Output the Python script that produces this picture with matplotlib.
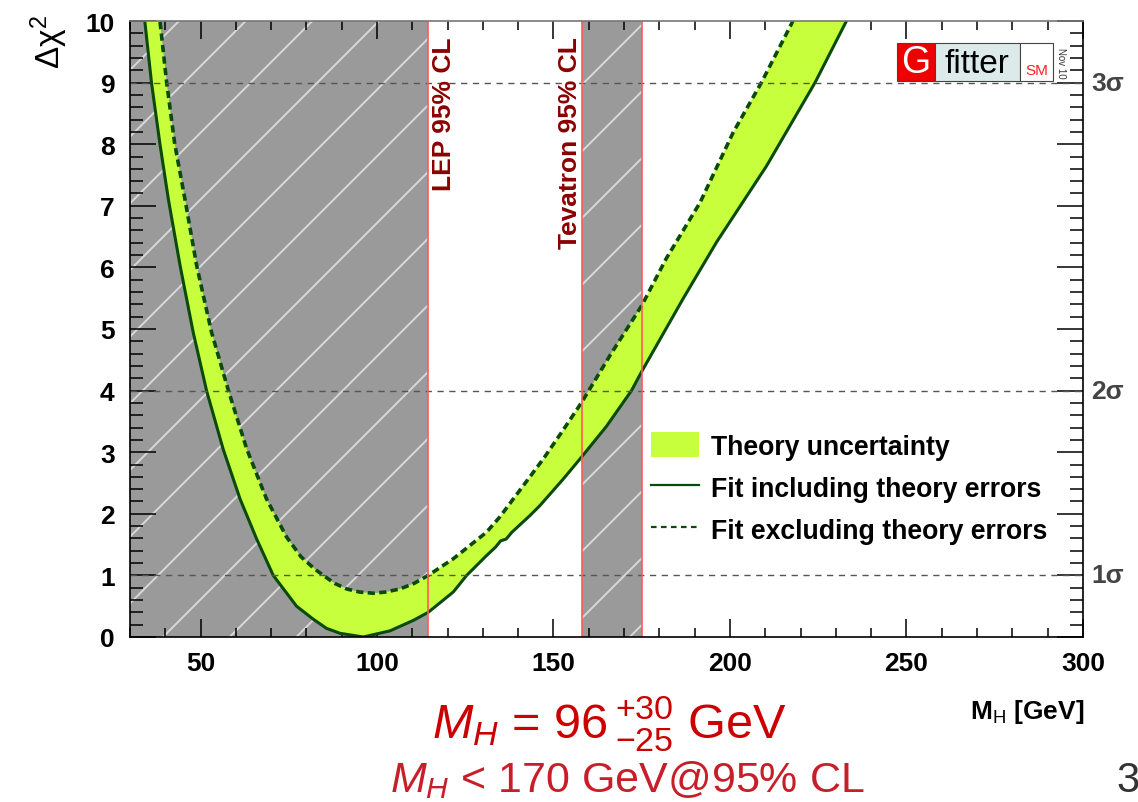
import numpy as np
import matplotlib
matplotlib.use("Agg")
import matplotlib.pyplot as plt
from matplotlib.patches import Rectangle, Patch
from matplotlib.lines import Line2D
from matplotlib.ticker import MultipleLocator

plt.rcParams['font.family'] = ['Liberation Sans', 'DejaVu Sans']
plt.rcParams['mathtext.fontset'] = 'custom'
plt.rcParams['mathtext.rm'] = 'Liberation Sans'
plt.rcParams['mathtext.it'] = 'Liberation Sans:italic'
plt.rcParams['mathtext.bf'] = 'Liberation Sans:bold'
plt.rcParams['hatch.linewidth'] = 0.7

# Fit including theory errors (solid, outer edge of the band)
mh_incl = [33.3, 34.2, 36.1, 38.5, 40.9, 44.2, 47.9, 51.7, 56.4, 61.2, 65.9, 70.6,
           77.2, 81.9, 85.7, 89.5, 96.1, 103.7, 110.3, 114.5, 121.6, 125.4, 131.0,
           133.6, 135.0, 136.6, 138.2, 143.3, 146.1, 152.7, 157.5, 165.0, 172.1,
           174.9, 186.7, 196.2, 210.4, 224.1, 233.0, 237.5]
chi2_incl = [10.5, 10.0, 9.0, 8.0, 7.1, 6.03, 4.95, 4.0, 3.05, 2.24, 1.59, 1.0,
             0.50, 0.29, 0.14, 0.06, 0.0, 0.10, 0.27, 0.40, 0.73, 1.0, 1.32,
             1.46, 1.56, 1.59, 1.70, 1.97, 2.13, 2.56, 2.89, 3.42, 4.0,
             4.30, 5.49, 6.41, 7.65, 9.0, 10.0, 10.5]

# Fit excluding theory errors (dashed, inner edge of the band)
mh_excl = [37.6, 38.5, 40.4, 42.7, 45.6, 48.9, 53.1, 57.9, 63.1, 68.7, 74.4, 78.5,
           82.4, 84.8, 88.0, 91.4, 95.0, 98.9, 102.5, 106.5, 110.5, 114.5, 121.6,
           131.0, 134.8, 142.4, 147.1, 152.5, 158.0, 166.0, 175.0, 182.0, 191.5,
           200.9, 208.9, 217.4, 221.5]
chi2_excl = [10.5, 10.0, 9.0, 8.0, 7.1, 6.03, 4.95, 4.0, 3.05, 2.24, 1.62, 1.3,
             1.10, 1.0, 0.87, 0.78, 0.73, 0.71, 0.73, 0.78, 0.87, 1.0, 1.27,
             1.70, 1.95, 2.53, 2.89, 3.34, 3.81, 4.57, 5.38, 6.15, 7.05,
             8.19, 9.0, 9.95, 10.5]

lep_limit = 114.4
tev_excl = (158.0, 175.0)
sigma_levels = [1, 4, 9]
sigma_labels = ['1σ', '2σ', '3σ']

band_color = '#c8ff3c'
line_color = '#0a4a0a'
excl_gray = '#9a9a9a'
limit_red = '#ff5a5a'
text_red = '#8b0000'

fig = plt.figure(figsize=(5.69, 4.015), dpi=200)
ax = fig.add_axes([0.1142, 0.2055, 0.8374, 0.7671])
ax.set_xlim(30, 300)
ax.set_ylim(0, 10)

# excluded regions (hatched gray)
ax.axvspan(30, lep_limit, facecolor=excl_gray, edgecolor='#d8d8d8', hatch='/', lw=0, zorder=1)
ax.axvspan(tev_excl[0], tev_excl[1], facecolor=excl_gray, edgecolor='#d8d8d8', hatch='/', lw=0, zorder=1)

# theory band between the two curves
band_x = np.r_[mh_incl, mh_excl[::-1]]
band_y = np.r_[chi2_incl, chi2_excl[::-1]]
ax.fill(band_x, band_y, color=band_color, lw=0, zorder=2)
ax.plot(mh_incl, chi2_incl, color=line_color, lw=1.1, zorder=3)
ax.plot(mh_excl, chi2_excl, color=line_color, lw=1.3, dashes=(2.0, 1.2), zorder=3)

# sigma lines
for lvl, lab in zip(sigma_levels, sigma_labels):
    ax.axhline(lvl, color='#555555', lw=0.5, dashes=(4.5, 4), zorder=4)
    ax.text(1.009, lvl, lab, transform=ax.get_yaxis_transform(), ha='left', va='center',
            fontsize=9.5, fontweight='bold', color='#444444')

# limit lines
for xv in [lep_limit, tev_excl[0], tev_excl[1]]:
    ax.axvline(xv, color=limit_red, lw=0.6, zorder=4)

ax.annotate('LEP 95% CL', xy=(lep_limit, 10), xytext=(1.5, -5.5), textcoords='offset points',
            rotation=90, ha='left', va='top', fontsize=9.5, fontweight='bold', color=text_red, zorder=5)
ax.annotate('Tevatron 95% CL', xy=(tev_excl[0], 10), xytext=(0, -5.5), textcoords='offset points',
            rotation=90, ha='right', va='top', fontsize=9.5, fontweight='bold', color=text_red, zorder=5)

# ticks, ROOT style
ax.xaxis.set_major_locator(MultipleLocator(50))
ax.xaxis.set_minor_locator(MultipleLocator(10))
ax.yaxis.set_major_locator(MultipleLocator(1))
ax.yaxis.set_minor_locator(MultipleLocator(0.2))
ax.tick_params(axis='both', which='both', direction='in', top=True, right=True, width=0.55, labelsize=9.5)
ax.tick_params(axis='x', which='major', length=6.5, pad=5)
ax.tick_params(axis='x', which='minor', length=3.2)
ax.tick_params(axis='y', which='major', length=9.5, pad=5.5)
ax.tick_params(axis='y', which='minor', length=4.7)
for lab in ax.get_xticklabels() + ax.get_yticklabels():
    lab.set_fontweight('bold')
for sp in ax.spines.values():
    sp.set_linewidth(0.6)
    sp.set_zorder(6)
ax.spines['top'].set_color('#777777')

# legend
handles = [Patch(facecolor=band_color, edgecolor='none'),
           Line2D([], [], color=line_color, lw=0.8),
           Line2D([], [], color=line_color, lw=0.8, dashes=(2.5, 2))]
labels = ['Theory uncertainty', 'Fit including theory errors', 'Fit excluding theory errors']
leg = ax.legend(handles, labels, loc='upper left', bbox_to_anchor=(0.547, 0.333), frameon=False,
                borderpad=0, borderaxespad=0, handlelength=1.78, handleheight=1.1,
                handletextpad=0.45, labelspacing=0.53, prop={'weight': 'bold', 'size': 9.6})
leg.set_zorder(7)

# Gfitter logo
y0, h = 0.9026, 0.0617
ax.add_patch(Rectangle((0.805, y0), 0.0397, h, transform=ax.transAxes, fc='#ee0000',
                       ec='#444444', lw=0.4, zorder=8, clip_on=False))
ax.add_patch(Rectangle((0.8447, y0), 0.0892, h, transform=ax.transAxes, fc='#dcebea',
                       ec='#444444', lw=0.4, zorder=8, clip_on=False))
ax.add_patch(Rectangle((0.9339, y0), 0.0346, h, transform=ax.transAxes, fc='white',
                       ec='#444444', lw=0.4, zorder=8, clip_on=False))
ax.text(0.8248, y0 + h / 2, 'G', transform=ax.transAxes, ha='center', va='center',
        fontsize=13.5, color='white', zorder=9)
ax.text(0.8893, y0 + h / 2 - 0.002, 'fitter', transform=ax.transAxes, ha='center', va='center',
        fontsize=12, color='black', zorder=9)
ax.text(0.9512, y0 + 0.006, 'SM', transform=ax.transAxes, ha='center', va='bottom',
        fontsize=5.5, color='#ff2020', zorder=9)
ax.text(0.977, y0 + h / 2, 'Nov 10', transform=ax.transAxes, ha='center', va='center',
        rotation=-90, fontsize=3.5, color='#333333', zorder=9)

# axis titles
fig.text(0.043, 0.947, r'$\mathrm{\Delta\chi}^{2}$', rotation=90, ha='center', va='center',
         fontsize=12, color='black')
fig.text(0.9525, 0.1045, r'M$_{\rm H}$ [GeV]', ha='right', va='baseline', fontsize=9.5,
         fontweight='bold', color='black')

# result text below the plot
fig.text(0.3796, 0.081, r'$M_H$ = $96\,^{+30}_{-25}$ GeV', ha='left', va='baseline',
         fontsize=17.5, color='#cc0000')
fig.text(0.3427, 0.014, r'$M_H$ < 170 GeV@95% CL', ha='left', va='baseline',
         fontsize=15.5, color='#c81e2a')
fig.text(0.981, 0.014, '3', ha='left', va='baseline', fontsize=15, color='#333333')

fig.savefig('out.png', dpi=200)
